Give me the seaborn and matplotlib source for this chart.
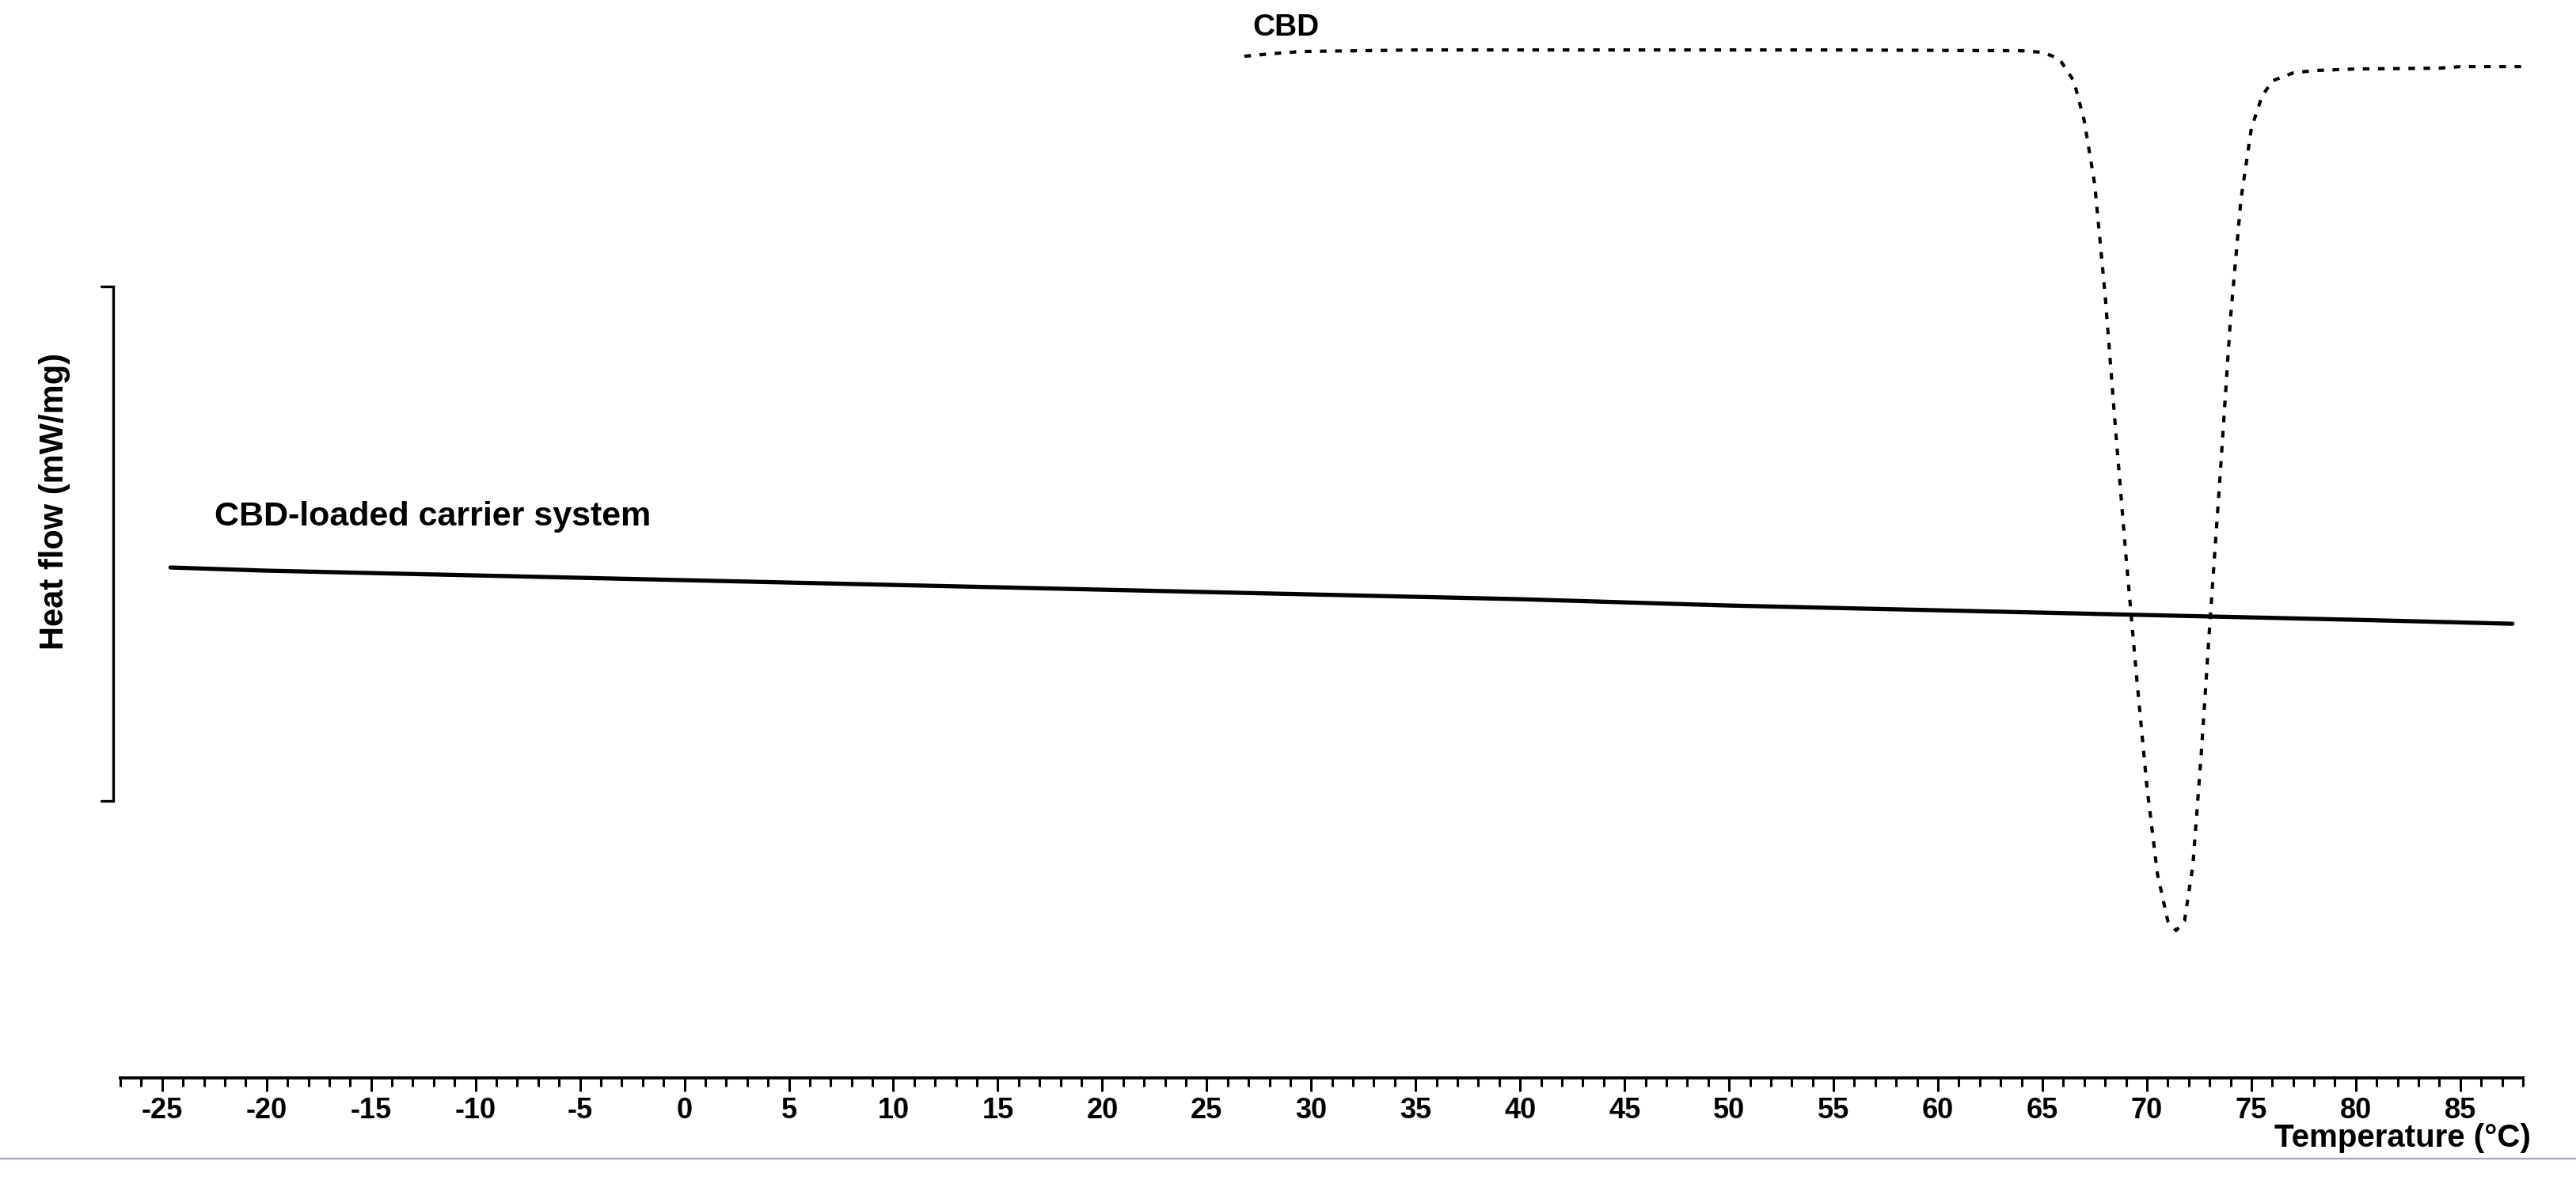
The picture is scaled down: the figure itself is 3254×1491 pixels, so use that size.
import numpy as np
import pandas as pd
import matplotlib
matplotlib.use("Agg")
import matplotlib.pyplot as plt
from matplotlib.lines import Line2D
from matplotlib.ticker import MultipleLocator
import seaborn as sns

# DSC traces (arbitrary heat flow units, endo down)
carrier_temp = [-24.6, -20, -10, 0, 10, 20, 30, 40, 50, 60, 70, 80, 87.5]
carrier_flow = [3.23, 3.21, 3.18, 3.15, 3.12, 3.09, 3.06, 3.03, 2.99, 2.96, 2.93, 2.90, 2.875]

cbd_temp = [26.8, 28, 29.5, 35, 45, 55, 64, 65, 65.8, 66.5, 67, 67.5, 68, 68.5, 69, 69.5,
            70, 70.5, 71, 71.4, 71.8, 72.2, 72.6, 73, 73.5, 74, 74.5, 75, 75.5, 76, 77,
            78, 80, 84, 85, 88.3]
cbd_flow = [6.455, 6.47, 6.485, 6.495, 6.495, 6.495, 6.49, 6.48, 6.44, 6.30, 6.05, 5.65, 4.95,
            4.10, 3.30, 2.55, 1.85, 1.30, 1.00, 0.94, 1.00, 1.35, 2.05, 2.85, 3.80, 4.80,
            5.55, 6.00, 6.20, 6.30, 6.35, 6.365, 6.375, 6.38, 6.39, 6.39]

major_ticks = list(range(-25, 90, 5))

sns.set_style("white")
plt.rcParams['font.family'] = ['Liberation Sans', 'DejaVu Sans']
plt.rcParams['font.weight'] = 'bold'
plt.rcParams['text.color'] = 'black'
plt.rcParams['xtick.color'] = 'black'
plt.rcParams['axes.unicode_minus'] = False

W, H = 3255, 1491
fig = plt.figure(figsize=(W / 100, H / 100), dpi=100)
ax = fig.add_axes([152 / W, (H - 1362) / H, 3035 / W, 1362 / H])

df_carrier = pd.DataFrame({"T": carrier_temp, "HF": carrier_flow})
df_cbd = pd.DataFrame({"T": cbd_temp, "HF": cbd_flow})

sns.lineplot(data=df_carrier, x="T", y="HF", ax=ax, color="black", linewidth=3.8,
             estimator=None, sort=False)
sns.lineplot(data=df_cbd, x="T", y="HF", ax=ax, color="black", linewidth=3.0,
             linestyle=(0, (2.0, 2.6)), estimator=None, sort=False, clip_on=False)

ax.set_xlim(-27, 88)
ax.set_ylim(0.01, 6.81)
for s in ["top", "right", "left"]:
    ax.spines[s].set_visible(False)
ax.spines["bottom"].set_linewidth(2.8)
ax.spines["bottom"].set_color("black")
ax.set_yticks([])
ax.set_xticks(major_ticks)
ax.xaxis.set_minor_locator(MultipleLocator(1))
ax.tick_params(axis="x", which="both", bottom=True, direction="out", colors="black")
ax.tick_params(axis="x", which="major", length=12, width=2.2, labelsize=26, pad=5)
ax.tick_params(axis="x", which="minor", length=8, width=2.2)
for lab in ax.get_xticklabels():
    lab.set_fontweight("bold")
ax.set_xlabel("")
ax.set_ylabel("")

ax.text(27.2, 6.635, "CBD", fontsize=28, fontweight="bold", va="center", ha="left",
        clip_on=False)
ax.text(-22.5, 3.55, "CBD-loaded carrier system", fontsize=31, fontweight="bold",
        va="center", ha="left")

fig.text(3197 / W, (H - 1438) / H, "Temperature (°C)", fontsize=29, fontweight="bold",
         ha="right", va="center")
fig.text(69 / W, (H - 633) / H, "Heat flow (mW/mg)", fontsize=30, fontweight="bold",
         rotation=90, ha="center", va="center")

# scale bracket on the left
bx, bs, bt, bb = 143 / W, 128 / W, (H - 362) / H, (H - 1012) / H
fig.add_artist(Line2D([bs, bx, bx, bs], [bt, bt, bb, bb], color="black", linewidth=2.4,
                      solid_joinstyle="miter"))
# thin rule under the figure
fig.add_artist(Line2D([0, 1], [(H - 1464) / H] * 2, color="#9aa8c8", linewidth=1.6))

fig.savefig("out.png", dpi=100)
